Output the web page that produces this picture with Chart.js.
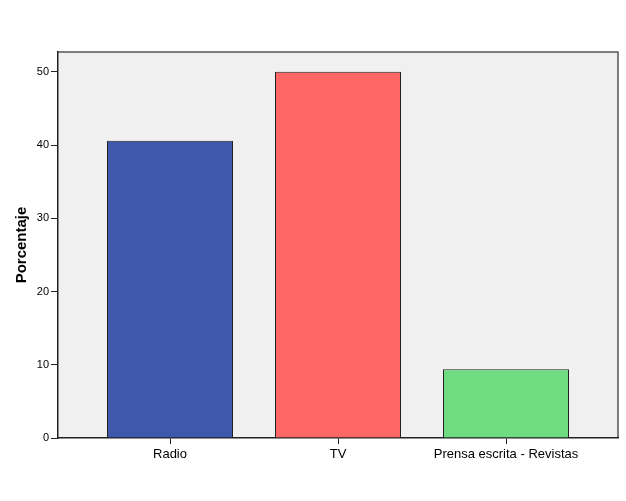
<!DOCTYPE html>
<html>
<head>
<title>Porcentaje</title>
<script src="https://cdn.jsdelivr.net/npm/chart.js@4.4.0/dist/chart.umd.min.js"></script>
<style>
body { margin:0; background:#fff; }
</style>
</head>
<body>
<div style="position:relative;width:626px;height:501px;">
	<canvas id="myChart" width="626" height="501"></canvas>
</div>
<script>
var categories = ['Radio', 'TV', 'Prensa escrita - Revistas'];
var values = [40.6, 50.0, 9.4];
var colors = ['#3e58ac', '#ff6666', '#6fdc82'];
var yTicks = [0, 10, 20, 30, 40, 50];

// plot background + gray frame on top/right
var frame = {
  id: 'frame',
  beforeDraw: function(chart) {
    var a = chart.chartArea, c = chart.ctx;
    c.save();
    c.fillStyle = '#f0f0f0';
    c.fillRect(a.left, a.top, a.right - a.left, a.bottom - a.top);
    c.strokeStyle = '#555';
    c.lineWidth = 1.5;
    c.beginPath();
    c.moveTo(a.left, a.top);
    c.lineTo(a.right, a.top);
    c.lineTo(a.right, a.bottom);
    c.stroke();
    c.restore();
  }
};

var points = values.map(function(v, i) { return { x: i, y: v }; });

var ctx = document.getElementById('myChart').getContext('2d');
var chart = new Chart(ctx, {
  type: 'bar',
  data: {
    datasets: [{
      data: points,
      backgroundColor: colors,
      borderColor: '#222',
      borderWidth: 1,
      barPercentage: 0.75,
      categoryPercentage: 1
    }]
  },
  options: {
    responsive: false,
    animation: false,
    layout: { padding: { top: 52, right: 8, left: 0, bottom: 0 } },
    plugins: { legend: { display: false }, tooltip: { enabled: false } },
    scales: {
      x: {
        type: 'linear',
        offset: false,
        min: -2 / 3,
        max: 2 + 2 / 3,
        afterBuildTicks: function(s) { s.ticks = categories.map(function(c, i) { return { value: i }; }); },
        grid: { offset: false, drawOnChartArea: false, tickLength: 6, color: '#222', lineWidth: 1 },
        border: { display: true, color: '#222', width: 1.5 },
        ticks: {
          color: '#000', font: { family: 'Liberation Sans, Arial', size: 13 }, padding: 3, maxRotation: 0,
          callback: function(v) { return categories[v]; }
        },
        afterFit: function(s) { s.height = 63; }
      },
      y: {
        min: 0,
        max: 52.7,
        afterBuildTicks: function(s) { s.ticks = yTicks.map(function(v) { return { value: v }; }); },
        grid: { drawOnChartArea: false, tickLength: 7, color: '#222', lineWidth: 1 },
        border: { display: true, color: '#222', width: 1.5 },
        ticks: { color: '#000', font: { family: 'Liberation Sans, Arial', size: 11 }, padding: 2 },
        title: { display: true, text: 'Porcentaje', color: '#000', font: { family: 'Liberation Sans, Arial', size: 15, weight: 'bold' }, padding: { top: 13, bottom: 0 } },
        afterFit: function(s) { s.width = 58; }
      }
    }
  },
  plugins: [frame]
});
</script>
</body>
</html>
